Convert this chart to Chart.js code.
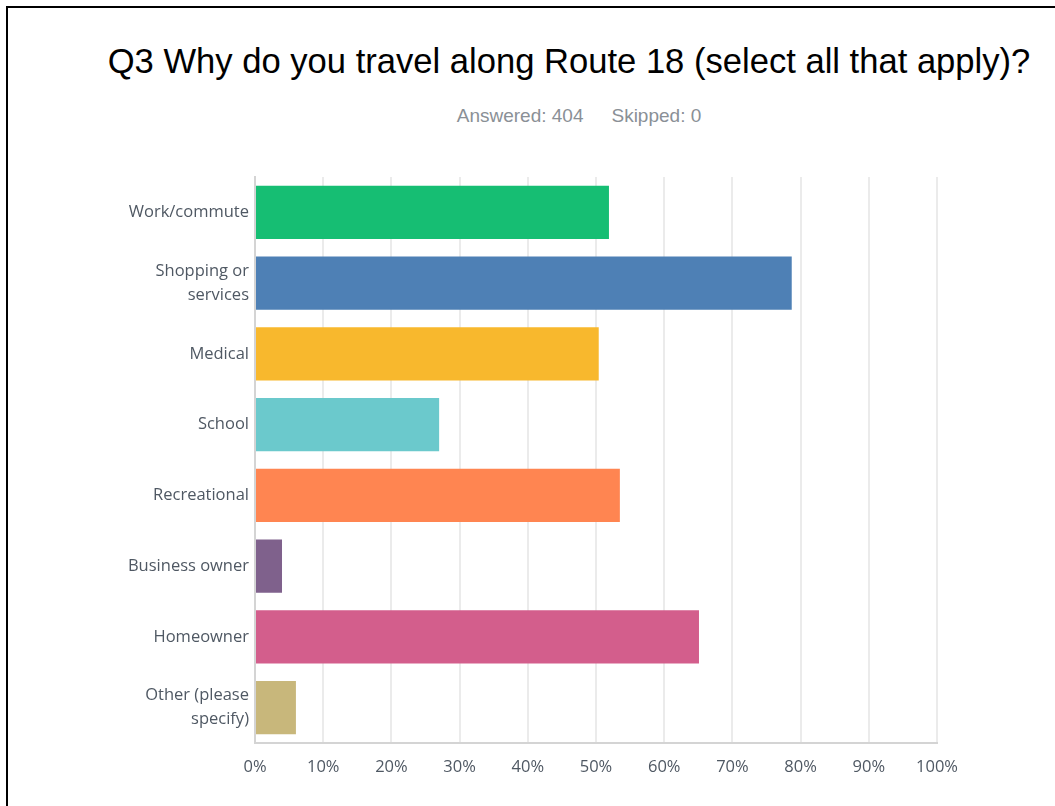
<!DOCTYPE html>
<html>
<head>
<meta charset="utf-8">
<script src="https://cdn.jsdelivr.net/npm/chart.js@4"></script>
<style>
  html, body { margin: 0; padding: 0; background: #fff; }
  body { width: 1055px; height: 806px; position: relative; overflow: hidden; }
  .frame { position: absolute; left: 6px; top: 6px; width: 1100px; height: 900px;
           border-left: 2px solid #000; border-top: 2px solid #000; }
  h1 { position: absolute; left: 0; width: 1138px; top: 42px; margin: 0; text-align: center;
       font: 34.6px "Liberation Sans", Arial, sans-serif; color: #000; font-weight: normal; }
  .sub { position: absolute; left: 0; width: 1158px; top: 105px; text-align: center;
         font: 19px "Liberation Sans", Arial, sans-serif; color: #8a9096; }
  .sub span + span { margin-left: 28px; }
  canvas { position: absolute; left: 0; top: 0; }
</style>
</head>
<body>
<div class="frame"></div>
<h1>Q3 Why do you travel along Route 18 (select all that apply)?</h1>
<div class="sub"><span>Answered: 404</span><span>Skipped: 0</span></div>
<canvas id="myChart" width="1055" height="806"></canvas>
<script>
const categorias = [
  "Work/commute", ["Shopping or", "services"], "Medical", "School",
  "Recreational", "Business owner", "Homeowner", ["Other (please", "specify)"]
];
const porcentajes = [51.9, 78.7, 50.4, 27.0, 53.5, 3.96, 65.1, 6.0];
const colores = [
  "#16be73", "#4e80b5", "#f8b82d", "#6bc9cc",
  "#ff8551", "#7f618c", "#d35e8c", "#c8b77b"
];
const marcasX = [0, 10, 20, 30, 40, 50, 60, 70, 80, 90, 100];

const ctx = document.getElementById('myChart').getContext('2d');
const chart = new Chart(ctx, {
  type: 'bar',
  data: {
    labels: categorias,
    datasets: [{
      data: porcentajes,
      backgroundColor: colores,
      barPercentage: 0.75,
      categoryPercentage: 1
    }]
  },
  options: {
    indexAxis: 'y',
    responsive: false,
    animation: false,
    layout: { padding: { left: 0, right: 118, top: 177, bottom: 0 } },
    plugins: {
      legend: { display: false },
      tooltip: { enabled: false }
    },
    scales: {
      x: {
        min: 0,
        max: 100,
        afterFit: s => { s.height = 63; },
        afterBuildTicks: s => { s.ticks = marcasX.map(v => ({ value: v })); },
        grid: { color: '#ebebeb', lineWidth: 2, drawTicks: false },
        border: { color: '#d4d4d4', width: 2 },
        ticks: {
          padding: 14,
          color: '#4f5863',
          font: { family: 'Open Sans', size: 16.5 },
          callback: v => v + '%'
        }
      },
      y: {
        afterFit: s => { s.width = 255; },
        grid: { display: false, drawTicks: false },
        border: { color: '#d4d4d4', width: 2 },
        ticks: {
          padding: 6,
          color: '#4f5863',
          font: { family: 'Open Sans', size: 16.5, lineHeight: 1.45 }
        }
      }
    }
  }
});
</script>
</body>
</html>
